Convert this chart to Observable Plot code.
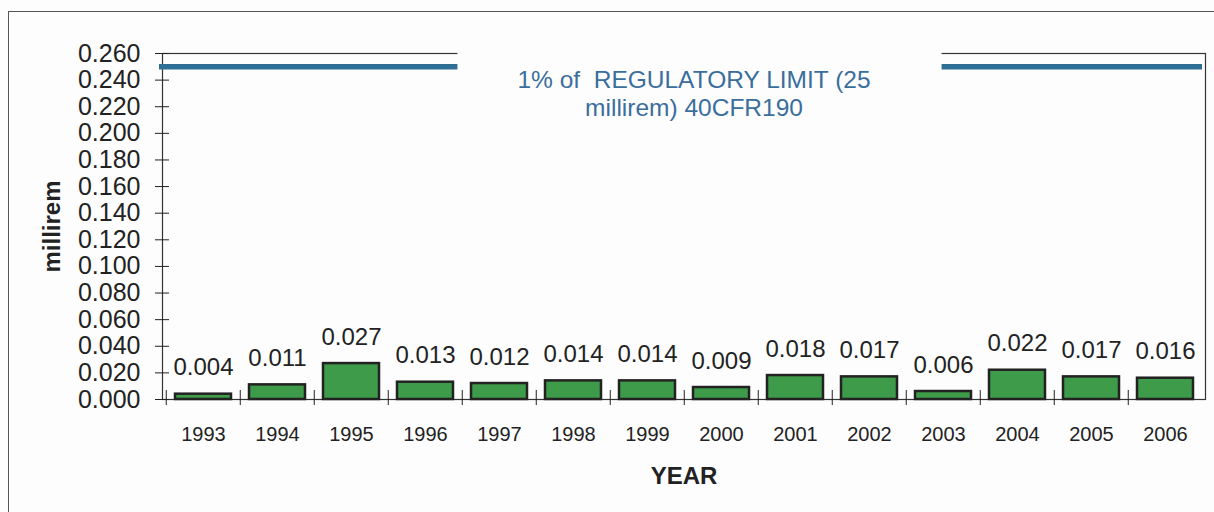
<!DOCTYPE html>
<html><head><meta charset="utf-8">
<script src="https://cdn.jsdelivr.net/npm/d3@7"></script>
<script src="https://cdn.jsdelivr.net/npm/@observablehq/plot@0.6"></script>
<style>
body{margin:0;background:#fff;}
#wrap{position:relative;width:1214px;height:512px;overflow:hidden;background:#fdfdfe;}
#border{position:absolute;left:8px;top:11px;right:-10px;bottom:-10px;border-left:1.5px solid #555;border-top:1.5px solid #555;}
#wrap svg{position:absolute;left:0;top:0;}
</style></head><body><div id="wrap"><div id="border"></div></div>
<script>
const years = ["1993","1994","1995","1996","1997","1998","1999","2000","2001","2002","2003","2004","2005","2006"];
const doses = [0.004,0.011,0.027,0.013,0.012,0.014,0.014,0.009,0.018,0.017,0.006,0.022,0.017,0.016];
const yTicks = [0,0.02,0.04,0.06,0.08,0.10,0.12,0.14,0.16,0.18,0.20,0.22,0.24,0.26];
const limitValue = 0.25;
const limitLabel = ["1% of\u00a0 REGULATORY LIMIT (25", "millirem) 40CFR190"];
const yLabel = "millirem";
const xLabel = "YEAR";

const data = years.map((y, i) => ({year: y, dose: doses[i]}));
const W = 1214, H = 512, mL = 162, mR = 9, mT = 53, mB = 113;
const padIn = 0.25, padOut = 0.125;
const step = (W - mL - mR) / (years.length - padIn + 2 * padOut);
const ink = "#222";
const blue = "#2f6f96";

const chart = Plot.plot({
  width: W, height: H,
  marginLeft: mL, marginRight: mR, marginTop: mT, marginBottom: mB,
  style: {fontFamily: "Arial, 'Liberation Sans', sans-serif", background: "transparent", color: ink},
  x: {domain: years, paddingInner: padIn, paddingOuter: padOut, label: null},
  y: {domain: [0, 0.26], label: null},
  marks: [
    Plot.frame({stroke: "#333", strokeWidth: 1.2}),
    Plot.ruleY([limitValue], {stroke: blue, strokeWidth: 5.5, dx: -3}),
    Plot.barY(data, {x: "year", y: "dose", fill: "#3e9b49", stroke: ink, strokeWidth: 2.5}),
    Plot.text(data, {x: "year", y: "dose", text: d => d3.format(".3f")(d.dose), lineAnchor: "bottom", dy: -19, fontSize: 24, fill: ink}),
    Plot.axisY(yTicks, {tickSize: 7, tickPadding: 15, tickFormat: d3.format(".3f"), fontSize: 25, fill: ink, stroke: ink, label: null}),
    Plot.axisY(yTicks, {tickSize: 7, dx: 7, tickFormat: () => "", stroke: ink, label: null}),
    Plot.axisX({tickSize: 0, tickPadding: 27, fontSize: 20, fill: ink, label: null}),
    Plot.axisX(years, {tickSize: 15, dy: -9, dx: -step / 2, tickFormat: () => "", stroke: ink, label: null}),
    Plot.text([limitLabel.join("\n")], {frameAnchor: "top", textAnchor: "middle", dx: 10, dy: 14, lineAnchor: "top", lineHeight: 1.15, fontSize: 24.5, fill: "#3a6e9c"}),
    Plot.text([yLabel], {frameAnchor: "left", textAnchor: "middle", rotate: -90, dx: -110, fontSize: 24, fontWeight: "bold", fill: ink}),
    Plot.text([xLabel], {frameAnchor: "bottom", textAnchor: "middle", dy: 84, fontSize: 24, fontWeight: "bold", fill: ink})
  ]
});
document.getElementById("wrap").append(chart);

// white box behind the limit label, sized from the rendered text
const svg = d3.select(chart);
const lbl = svg.selectAll("text").filter(function() { return this.textContent.includes("REGULATORY"); }).node();
if (lbl) {
  const b = lbl.getBBox();
  const g = lbl.parentNode;
  const rect = document.createElementNS("http://www.w3.org/2000/svg", "rect");
  rect.setAttribute("x", b.x - 60);
  rect.setAttribute("y", b.y - 40);
  rect.setAttribute("width", b.width + 131);
  rect.setAttribute("height", b.height + 50);
  rect.setAttribute("fill", "#fdfdfe");
  if (lbl.getAttribute("transform")) rect.setAttribute("transform", lbl.getAttribute("transform"));
  g.insertBefore(rect, lbl);
}
</script></body></html>
